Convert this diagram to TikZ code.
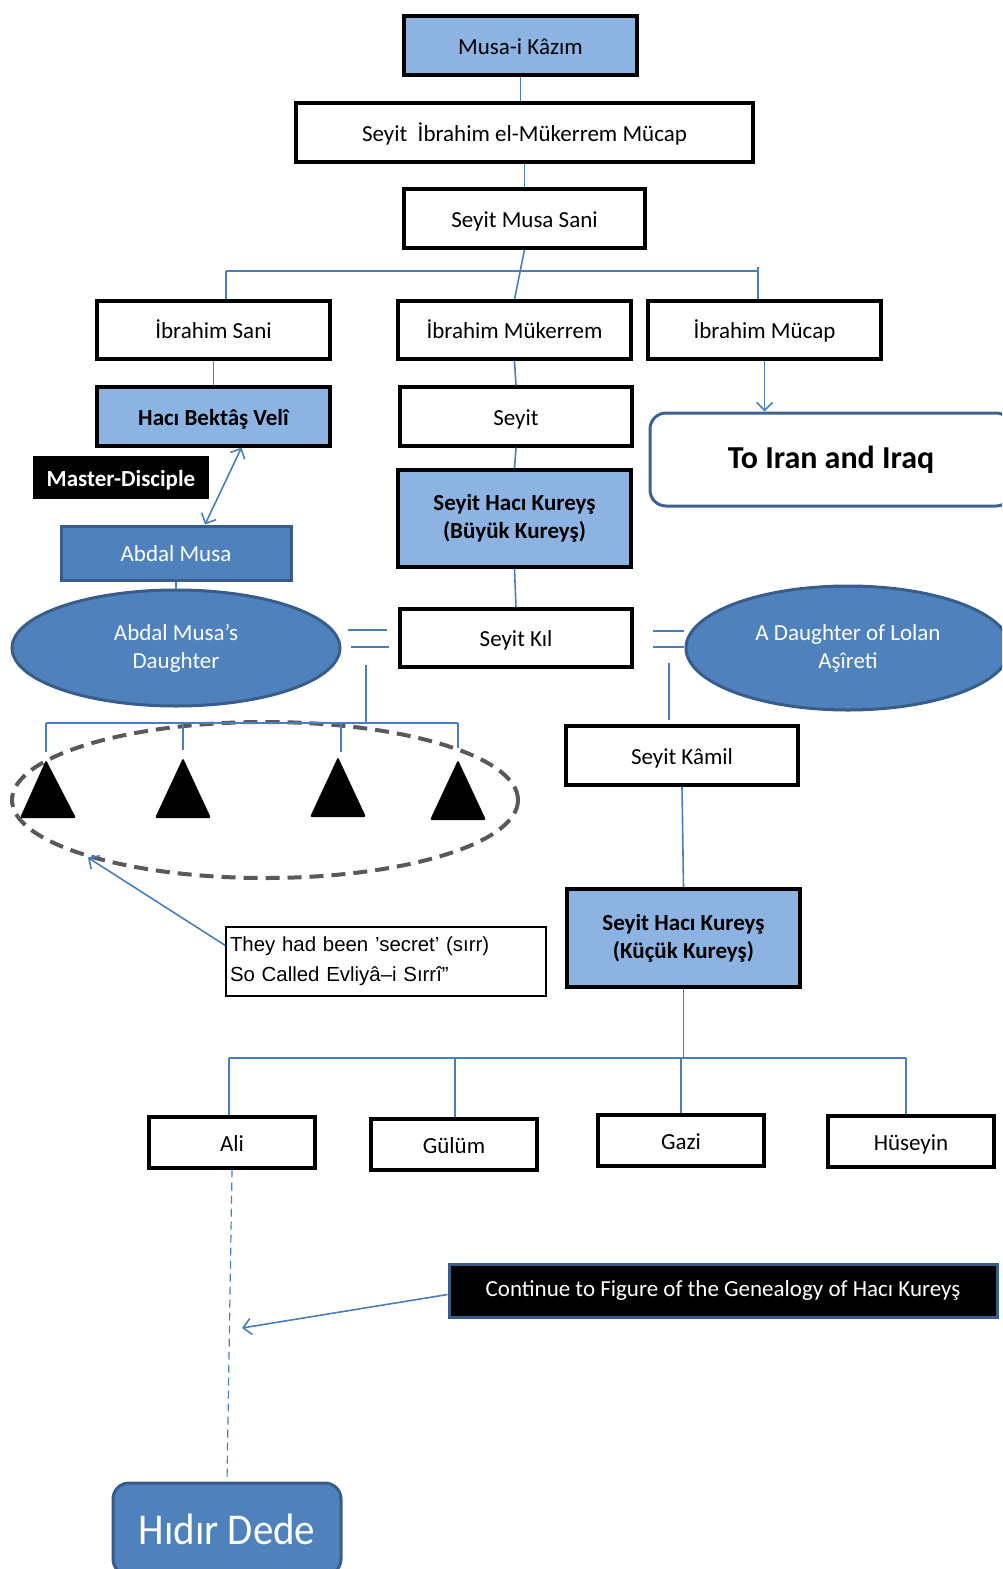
\documentclass[tikz,border=0pt]{standalone}
\usepackage{fontspec}
\setmainfont{Carlito}
\newfontfamily\callfont{Liberation Sans}
\usetikzlibrary{arrows.meta,shapes.geometric}
\definecolor{lblue}{HTML}{8DB3E2}
\definecolor{mblue}{HTML}{4F81BD}
\definecolor{dblue}{HTML}{385D8A}
\definecolor{lnblue}{HTML}{4A7EBB}
\definecolor{dgray}{HTML}{595959}
\tikzset{
  sz/.style 2 args={minimum width=#1*0.5pt, minimum height=#2*0.5pt},
  one/.style={text height=11pt, text depth=2.5pt},
  wbox/.style={rectangle, draw=black, line width=1.6pt, fill=white, inner sep=0pt,
    align=center, text=black, font=\fontsize{11.5}{14}\selectfont},
  lbbox/.style={wbox, fill=lblue},
  bbold/.style={font=\fontsize{11.5}{14}\bfseries\selectfont},
  blackbox/.style={rectangle, fill=black, inner sep=0pt, text=white,
    font=\fontsize{11.5}{14}\bfseries\selectfont},
  mbox/.style={rectangle, fill=mblue, draw=dblue, line width=1.5pt, inner sep=0pt,
    text=white, font=\fontsize{11.5}{14}\selectfont},
  mell/.style={ellipse, fill=mblue, draw=dblue, line width=1.5pt, inner sep=0pt,
    text=white, align=center, font=\fontsize{11.5}{14}\selectfont},
  iranbox/.style={rectangle, rounded corners=8pt, fill=white, draw=dblue!85!mblue,
    line width=1.5pt, inner sep=0pt, font=\fontsize{16}{19}\bfseries\selectfont},
  callbox/.style={rectangle, draw=black, line width=0.6pt, fill=white, inner sep=2pt,
    align=left, text width=156pt, font=\callfont\fontsize{10.2}{15}\selectfont},
  contbox/.style={rectangle, fill=black, draw=dblue, line width=1.5pt, inner sep=0pt,
    text=white, font=\fontsize{11.5}{14}\selectfont},
  hidirbox/.style={rectangle, rounded corners=8pt, fill=mblue, draw=dblue,
    line width=1.5pt, inner sep=0pt, text=white, font=\fontsize{22}{26}\selectfont},
  sirrell/.style={ellipse, draw=dgray, line width=2pt, dash pattern=on 7pt off 4pt, inner sep=0pt},
  conn/.style={draw=lnblue, line width=0.8pt},
  arr/.style={conn, -{Straight Barb[length=4pt,width=8pt]}},
  dconn/.style={draw=lnblue, line width=0.6pt, dash pattern=on 4pt off 2.5pt},
}
\begin{document}
\begin{tikzpicture}[x=0.5pt,y=-0.5pt]
\useasboundingbox (0,0) rectangle (1002,1569);
\clip (0,0) rectangle (1002,1569);

% ---- nodes ----
\node[lbbox, one, sz={233}{59}] (musa) at (520.5,45.5) {Musa-i Kâzım};
\node[wbox, one, sz={457}{59}] (ibel) at (524.5,132.5) {Seyit\ \ İbrahim el-Mükerrem Mücap};
\node[wbox, one, sz={241}{59}] (msani) at (524.5,218.5) {Seyit Musa Sani};
\node[wbox, one, sz={233}{58}] (isani) at (213.5,330) {İbrahim Sani};
\node[wbox, one, sz={233}{58}] (imuk) at (514.5,330) {İbrahim Mükerrem};
\node[wbox, one, sz={233}{58}] (imuc) at (764.5,330) {İbrahim Mücap};
\node[lbbox, bbold, one, sz={233}{59}] (haci) at (213.5,416.5) {Hacı Bektâş Velî};
\node[blackbox, one, sz={176}{43}] (master) at (121,477.5) {Master-Disciple};
\node[mbox, one, sz={230}{54}] (abdal) at (176,553) {Abdal Musa};
\node[mell, sz={328}{116}] (daughter) at (176,648) {Abdal Musa's\\Daughter};
\node[wbox, one, sz={232}{59}] (seyit) at (516,416.5) {Seyit};
\node[lbbox, bbold, sz={233}{97}] (buyuk) at (514.5,518.5) {Seyit Hacı Kureyş\\(Büyük Kureyş)};
\node[wbox, one, sz={232}{58}] (kil) at (516,638) {Seyit Kıl};
\node[iranbox, sz={362}{93}] (iran) at (831,459.5) {To Iran and Iraq};
\node[mell, sz={324}{124}] (lolan) at (848,648) {A Daughter of Lolan\\Aşîreti};
\node[wbox, one, sz={232}{59}] (kamil) at (682,755.5) {Seyit Kâmil};
\node[lbbox, bbold, sz={233}{98}] (kucuk) at (683.5,938) {Seyit Hacı Kureyş\\(Küçük Kureyş)};
\node[wbox, one, sz={166}{51}] (ali) at (232,1142.5) {Ali};
\node[wbox, one, sz={166}{51}] (gulum) at (454,1144.5) {Gülüm};
\node[wbox, one, sz={166}{51}] (gazi) at (681,1140.5) {Gazi};
\node[wbox, one, sz={166}{51}] (huseyin) at (911,1141.5) {Hüseyin};
\node[callbox, sz={320}{69}] (call) at (386,961.5) {They had been ’secret’ (sırr)\\So Called Evliyâ–i Sırrî”};
\node[contbox, sz={548}{53}] (cont) at (723,1290.5) {Continue to Figure of the Genealogy of Hacı Kureyş};
\node[hidirbox, sz={228}{92}] (hidir) at (227,1529) {\scalebox{0.93}[1]{Hıdır Dede}};

% dashed group ellipse and triangles
\node[sirrell, sz={506}{156}] (sirr) at (265,800) {};
\fill[rounded corners=1pt] (20,818) -- (46,760) -- (76,818) -- cycle;
\fill[rounded corners=1pt] (155,818) -- (183,758) -- (211,818) -- cycle;
\fill[rounded corners=1pt] (310,817) -- (338,757) -- (366,817) -- cycle;
\fill[rounded corners=1pt] (430,820) -- (458,760) -- (486,820) -- cycle;

% ---- connectors ----
\draw[conn] (musa.south) -- (ibel.north -| musa.south);
\draw[conn] (ibel.south) -- (msani.north);
\coordinate (b1L) at (226,271);
\coordinate (b1R) at (758,271);
\coordinate (b1Rt) at (758,267);
\draw[conn] (msani.south) -- (imuk.north);
\draw[conn] (b1L) -- (b1R);
\draw[conn] (b1L) -- (b1L |- isani.north);
\draw[conn] (b1Rt) -- (b1R |- imuc.north);
\draw[conn] (isani.south) -- (haci.north);
\draw[conn, {Straight Barb[length=4pt,width=8pt]}-{Straight Barb[length=4pt,width=8pt]}]
  ([xshift=14.5pt]abdal.north) -- ([xshift=14pt]haci.south);
\draw[conn] (abdal.south) -- (daughter.north);
\draw[conn] (imuk.south) -- (seyit.north);
\draw[conn] (seyit.south) -- (buyuk.north);
\draw[conn] (buyuk.south) -- (kil.north);
\draw[arr] (imuc.south) -- (imuc.south |- iran.north);

% marriage signs
\coordinate (eqA1) at (348,630); \coordinate (eqA2) at (387,630);
\coordinate (eqB1) at (351,647); \coordinate (eqB2) at (389,647);
\draw[conn] (eqA1) -- (eqA2);
\draw[conn] (eqB1) -- (eqB2);
\coordinate (eqC1) at (653,631); \coordinate (eqC2) at (684,631);
\coordinate (eqD1) at (653,647); \coordinate (eqD2) at (684,647);
\draw[conn] (eqC1) -- (eqC2);
\draw[conn] (eqD1) -- (eqD2);

% children of Abdal Musa's daughter
\coordinate (v1) at (366,665);
\coordinate (v2) at (366,723);
\coordinate (b2L) at (46,723);
\coordinate (b2R) at (458,723);
\coordinate (t1) at (46,752);
\coordinate (t2) at (183,750);
\coordinate (t3) at (341,752);
\coordinate (t4) at (458,748);
\draw[conn] (v1) -- (v2);
\draw[conn] (b2L) -- (b2R);
\draw[conn] (b2L) -- (t1);
\draw[conn] (t2 |- b2L) -- (t2);
\draw[conn] (t3 |- b2L) -- (t3);
\draw[conn] (b2R) -- (t4);
\draw[arr] ([yshift=8pt]call.west) -- (sirr.198);

% right line
\coordinate (r1) at (669,663);
\coordinate (r2) at (669,720);
\draw[conn] (r1) -- (r2);
\draw[conn] (kamil.south) -- (kucuk.north);

% sons
\coordinate (b3) at (683.5,1058);
\coordinate (b3L) at (229,1058);
\coordinate (b3R) at (906,1058);
\coordinate (b3G) at (455,1058);
\coordinate (b3Z) at (681,1058);
\draw[conn] (kucuk.south) -- (b3);
\draw[conn] (b3L) -- (b3R);
\draw[conn] (b3L) -- (b3L |- ali.north);
\draw[conn] (b3G) -- (b3G |- gulum.north);
\draw[conn] (b3Z) -- (b3Z |- gazi.north);
\draw[conn] (b3R) -- (b3R |- huseyin.north);

% continuation
\draw[dconn] (ali.south) -- (hidir.north);
\coordinate (ctip) at (242,1328);
\draw[arr] ([yshift=-2pt]cont.west) -- (ctip);
\end{tikzpicture}
\end{document}
